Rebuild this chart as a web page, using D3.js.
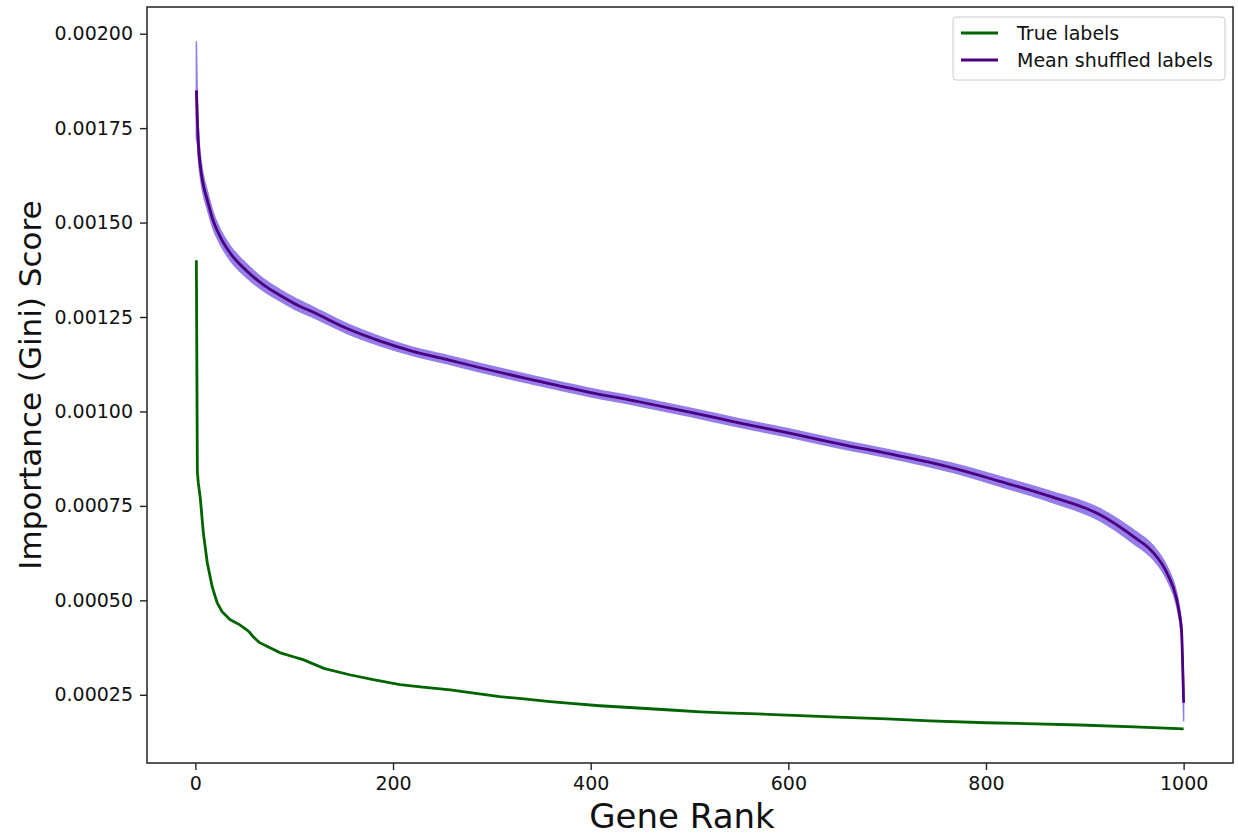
<!DOCTYPE html>
<html>
<head>
<meta charset="utf-8">
<script src="https://cdn.jsdelivr.net/npm/d3@7"></script>
<style>
  body { margin: 0; background: #fff; }
  text { font-family: "DejaVu Sans", sans-serif; }
</style>
</head>
<body>
<div id="chart"></div>
<script>
// gene ranks and scores
var trueRank = [1, 2, 3, 5, 8, 12, 17, 22, 27, 35, 45, 52, 55, 58, 62, 65, 75, 86, 100, 109, 130, 156, 180, 207, 230, 258, 280, 308, 330, 359, 380, 409, 435, 460, 485, 511, 535, 561, 592, 612, 650, 700, 743, 800, 850, 895, 950, 1000]
var trueScore = [0.00140, 0.00084, 0.00081, 0.00077, 0.00068, 0.00060, 0.000536, 0.000494, 0.000470, 0.000449, 0.000435, 0.000422, 0.000415, 0.000405, 0.000395, 0.000388, 0.000375, 0.000361, 0.000350, 0.000343, 0.000320, 0.000303, 0.000290, 0.000277, 0.000270, 0.000263, 0.000255, 0.000245, 0.000240, 0.000232, 0.000227, 0.000221, 0.000217, 0.000213, 0.000209, 0.000205, 0.000202, 0.000200, 0.000197, 0.000195, 0.000191, 0.000186, 0.000181, 0.000176, 0.000173, 0.000170, 0.000165, 0.000160]

var shufRank = [1, 2, 3, 5, 8, 12, 18, 25, 35, 52, 70, 86, 100, 119, 153, 187, 220, 254, 286, 339, 400, 450, 500, 550, 600, 650, 713, 764, 814, 865, 915, 949, 969, 983, 993, 996, 998, 999, 1000]
var shufMean = [0.00185, 0.00177, 0.00171, 0.00165, 0.00160, 0.00156, 0.001505, 0.001463, 0.00142, 0.001372, 0.001333, 0.001307, 0.001286, 0.001263, 0.001220, 0.001186, 0.001159, 0.001138, 0.001117, 0.001085, 0.00105, 0.001025, 0.000998, 0.00097, 0.000943, 0.000915, 0.000882, 0.000852, 0.000815, 0.000775, 0.000727, 0.000669, 0.000627, 0.000573, 0.000502, 0.00046, 0.000414, 0.00033, 0.000229]
var shufStd = [0.00013, 0.00006, 0.00004, 0.00003, 0.000026, 0.000024, 0.000022, 0.00002, 0.000019, 0.000018, 0.000016, 0.000015, 0.000015, 0.000014, 0.000013, 0.000012, 0.000011, 0.000011, 0.000011, 0.000011, 0.000011, 0.000011, 0.000011, 0.000011, 0.000011, 0.000011, 0.000011, 0.000012, 0.000013, 0.000014, 0.000016, 0.000018, 0.000018, 0.000018, 0.000018, 0.000018, 0.00002, 0.000027, 0.00005]

var xTicks = [0, 200, 400, 600, 800, 1000]
var yTicks = [0.00025, 0.00050, 0.00075, 0.00100, 0.00125, 0.00150, 0.00175, 0.00200]

// size of the picture and the plot box
var width = 1238
var height = 835
var margin = {top: 7, right: 5, bottom: 72, left: 147}

var svg = d3.select("#chart")
  .append("svg")
  .attr("width", width)
  .attr("height", height)

var x = d3.scaleLinear()
  .domain([-48.95, 1049.95])
  .range([margin.left, width - margin.right])

var y = d3.scaleLinear()
  .domain([0.0000694, 0.0020706])
  .range([height - margin.bottom, margin.top])

var trueData = trueRank.map(function(r, i) { return {rank: r, v: trueScore[i]} })
var shufData = shufRank.map(function(r, i) { return {rank: r, m: shufMean[i], s: shufStd[i]} })

// shaded band: mean +/- std of the shuffled runs
var band = d3.area()
  .x(function(d) { return x(d.rank) })
  .y0(function(d) { return y(d.m - d.s) })
  .y1(function(d) { return y(d.m + d.s) })
  .curve(d3.curveMonotoneX)

svg.append("path")
  .datum(shufData)
  .attr("d", band)
  .attr("fill", "#6a48e0")
  .attr("stroke", "#6a48e0")
  .attr("stroke-width", 1.5)
  .attr("opacity", 0.7)

var shufLine = d3.line()
  .x(function(d) { return x(d.rank) })
  .y(function(d) { return y(d.m) })
  .curve(d3.curveMonotoneX)

svg.append("path")
  .datum(shufData)
  .attr("d", shufLine)
  .attr("fill", "none")
  .attr("stroke", "#4b0082")
  .attr("stroke-width", 2.8)

var trueLine = d3.line()
  .x(function(d) { return x(d.rank) })
  .y(function(d) { return y(d.v) })

svg.append("path")
  .datum(trueData)
  .attr("d", trueLine)
  .attr("fill", "none")
  .attr("stroke", "#006400")
  .attr("stroke-width", 2.8)

// axes
var xAxis = svg.append("g")
  .attr("transform", "translate(0," + (height - margin.bottom) + ")")
  .call(d3.axisBottom(x).tickValues(xTicks).tickSize(7).tickPadding(7).tickFormat(d3.format("d")))

var yAxis = svg.append("g")
  .attr("transform", "translate(" + margin.left + ",0)")
  .call(d3.axisLeft(y).tickValues(yTicks).tickSize(7).tickPadding(7).tickFormat(d3.format(".5f")))

;[xAxis, yAxis].forEach(function(g) {
  g.select(".domain").remove()
  g.selectAll("line").attr("stroke", "#222").attr("stroke-width", 1.4)
  g.selectAll("text").attr("font-size", 19).attr("fill", "#111")
    .style("font-family", "'DejaVu Sans', sans-serif")
})

// frame round the plot
svg.append("rect")
  .attr("x", margin.left)
  .attr("y", margin.top)
  .attr("width", width - margin.left - margin.right)
  .attr("height", height - margin.top - margin.bottom)
  .attr("fill", "none")
  .attr("stroke", "#222")
  .attr("stroke-width", 1.5)

svg.append("text")
  .attr("x", 682)
  .attr("y", 828)
  .attr("text-anchor", "middle")
  .attr("font-size", 34)
  .attr("fill", "#111")
  .text("Gene Rank")

svg.append("text")
  .attr("transform", "translate(41," + ((margin.top + height - margin.bottom) / 2) + ") rotate(-90)")
  .attr("text-anchor", "middle")
  .attr("font-size", 31)
  .attr("fill", "#111")
  .text("Importance (Gini) Score")

// legend
var legend = svg.append("g").attr("transform", "translate(953,17)")
legend.append("rect")
  .attr("width", 272)
  .attr("height", 63)
  .attr("rx", 3)
  .attr("fill", "#fff")
  .attr("stroke", "#ccc")
  .attr("stroke-width", 1)

var items = [{label: "True labels", color: "#006400"}, {label: "Mean shuffled labels", color: "#4b0082"}]
items.forEach(function(it, i) {
  var yy = 16 + i * 27
  legend.append("line")
    .attr("x1", 8).attr("x2", 45)
    .attr("y1", yy).attr("y2", yy)
    .attr("stroke", it.color)
    .attr("stroke-width", 2.8)
  legend.append("text")
    .attr("x", 64)
    .attr("y", yy + 7)
    .attr("font-size", 19)
    .attr("fill", "#111")
    .text(it.label)
})
</script>
</body>
</html>
